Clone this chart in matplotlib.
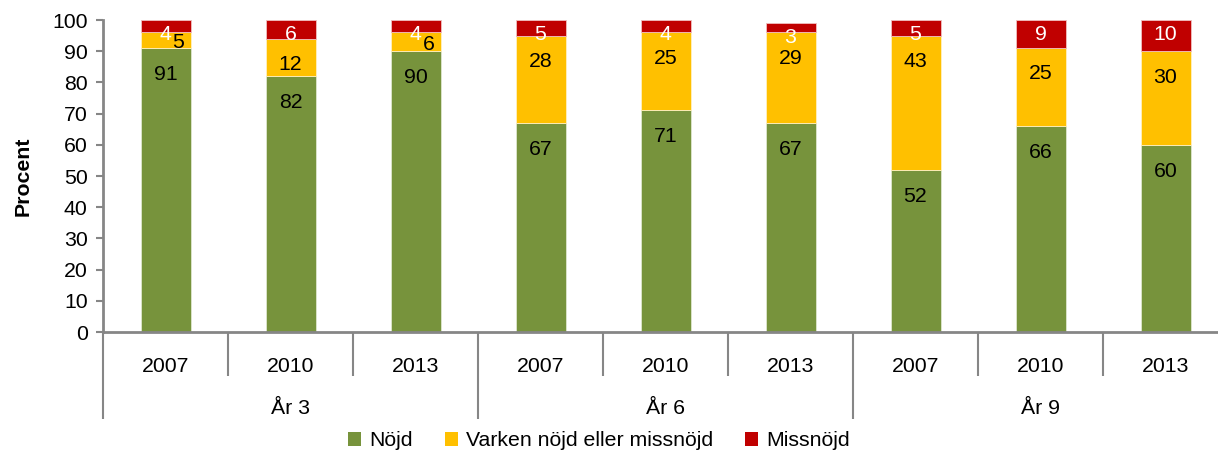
import matplotlib
matplotlib.use("Agg")
import matplotlib.pyplot as plt
from matplotlib.patches import Patch
import matplotlib.transforms as mtransforms

plt.rcParams['font.family'] = ['Liberation Sans', 'DejaVu Sans']

years = ["2007", "2010", "2013", "2007", "2010", "2013", "2007", "2010", "2013"]
groups = ["År 3", "År 6", "År 9"]
series_names = ["Nöjd", "Varken nöjd eller missnöjd", "Missnöjd"]
nojd = [91, 82, 90, 67, 71, 67, 52, 66, 60]
varken = [5, 12, 6, 28, 25, 29, 43, 25, 30]
missnojd = [4, 6, 4, 5, 4, 3, 5, 9, 10]

colors = ["#77933C", "#FFC000", "#C00000"]
grey = "#868686"
FS = 15.3

fig = plt.figure(figsize=(12.18, 4.5), dpi=100)
ax = fig.add_axes([103/1218, 118/450, 1125/1218, 312/450])

x = list(range(len(years)))
w = 0.4
ax.bar(x, nojd, w, color=colors[0], edgecolor="#dfe6cf", linewidth=0.6)
bottom2 = nojd
ax.bar(x, varken, w, bottom=bottom2, color=colors[1], edgecolor="#fff0c0", linewidth=0.6)
bottom3 = [a + b for a, b in zip(nojd, varken)]
ax.bar(x, missnojd, w, bottom=bottom3, color=colors[2], edgecolor="#f0c0c0", linewidth=0.6)

for i in x:
    ax.text(i, nojd[i] - 8.5, str(nojd[i]), ha="center", va="center", fontsize=FS, color="black")
    top2 = nojd[i] + varken[i]
    if varken[i] < 8:
        ax.annotate(str(varken[i]), (i, nojd[i] + varken[i] / 2 - 0.8), xytext=(13, 0),
                    textcoords="offset pixels", ha="center", va="center", fontsize=FS, color="black")
    else:
        ax.text(i, top2 - 8.3, str(varken[i]), ha="center", va="center", fontsize=FS, color="black")
    top3 = top2 + missnojd[i]
    ax.text(i, top3 - 4.5, str(missnojd[i]), ha="center", va="center", fontsize=FS, color="white")

ax.set_xlim(-0.5, len(years) - 0.5)
ax.set_ylim(0, 100)
ax.set_yticks(range(0, 101, 10))
ax.tick_params(axis="y", direction="out", length=5, width=1.5, color=grey, labelsize=FS, pad=6)

for s in ["top", "right"]:
    ax.spines[s].set_visible(False)
for s in ["left", "bottom"]:
    ax.spines[s].set_color(grey)
    ax.spines[s].set_linewidth(2)

major = [0, 3, 6]
minor = [1, 2, 4, 5, 7, 8]
ax.set_xticks([m - 0.5 for m in major])
ax.set_xticks([m - 0.5 for m in minor], minor=True)
ax.tick_params(axis="x", which="major", length=62.5, width=1.5, color=grey, labelbottom=False)
ax.tick_params(axis="x", which="minor", length=31.5, width=1.5, color=grey, labelbottom=False)

trans = mtransforms.blended_transform_factory(ax.transData, ax.transAxes)
for i, yr in enumerate(years):
    ax.annotate(yr, (i, 0), xycoords=trans, xytext=(0, -34), textcoords="offset pixels",
                ha="center", va="center", fontsize=FS)
for g, name in enumerate(groups):
    ax.annotate(name, (g * 3 + 1, 0), xycoords=trans, xytext=(0, -77), textcoords="offset pixels",
                ha="center", va="center", fontsize=FS)

ax.set_ylabel("Procent", fontsize=FS, fontweight="bold", labelpad=14)

handles = [Patch(facecolor=c, edgecolor="none") for c in colors]
fig.legend(handles, series_names, loc="center", bbox_to_anchor=(0.492, 0.02), ncol=3,
           frameon=False, fontsize=FS, handlelength=0.6, handleheight=0.6,
           handletextpad=0.4, columnspacing=1.5, borderpad=0)

fig.savefig("out.png", dpi=100)
